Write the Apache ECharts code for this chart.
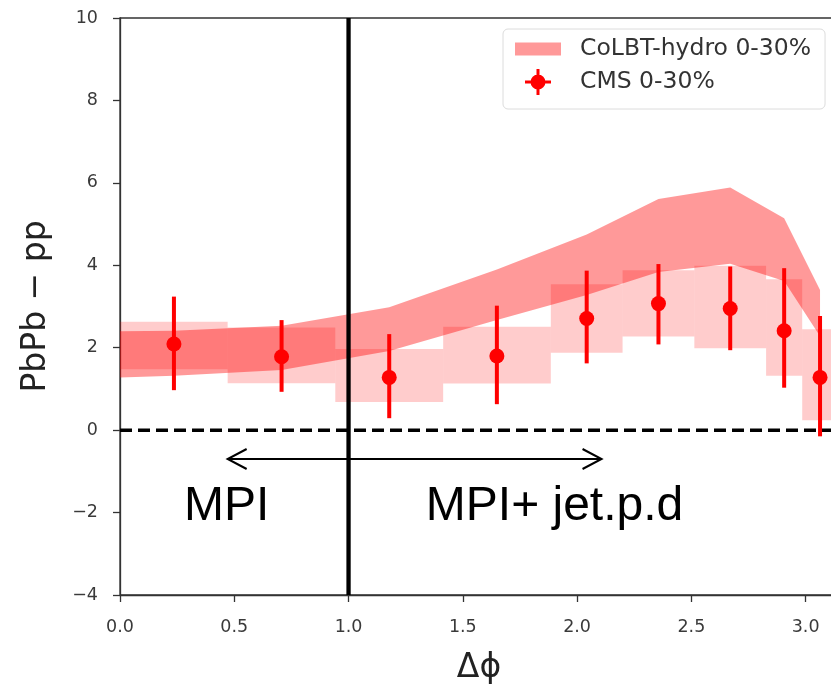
<!DOCTYPE html>
<html><head><meta charset="utf-8">
<script src="https://cdn.jsdelivr.net/npm/echarts@6/dist/echarts.min.js"></script>
<style>html,body{margin:0;padding:0;background:#fff}#chart{width:831px;height:685px}</style>
</head><body><div id="chart"></div>
<script>
// ---- data ----
const binEdges = [0, 0.471, 0.942, 1.414, 1.885, 2.199, 2.513, 2.827, 2.985, 3.1416];
const cmsX = [0.236, 0.707, 1.178, 1.649, 2.042, 2.356, 2.670, 2.906, 3.063];
const cmsY = [2.09, 1.78, 1.28, 1.80, 2.71, 3.07, 2.95, 2.41, 1.28];
const cmsStatLow = [0.97, 0.93, 0.29, 0.63, 1.62, 2.08, 1.94, 1.03, -0.15];
const cmsStatHigh = [3.24, 2.67, 2.33, 3.02, 3.87, 4.03, 3.97, 3.93, 2.77];
const cmsSysLow = [1.48, 1.14, 0.68, 1.13, 1.88, 2.27, 1.99, 1.32, 0.24];
const cmsSysHigh = [2.63, 2.49, 1.97, 2.51, 3.54, 3.88, 3.99, 3.66, 2.45];
const modelX = [0, 0.236, 0.707, 1.178, 1.649, 2.042, 2.356, 2.670, 2.906, 3.063];
const modelUpper = [2.40, 2.41, 2.53, 2.98, 3.90, 4.75, 5.61, 5.89, 5.14, 3.40];
const modelLower = [1.28, 1.32, 1.46, 1.92, 2.67, 3.28, 3.84, 4.04, 3.62, 2.28];
const xTicks = [0.0, 0.5, 1.0, 1.5, 2.0, 2.5, 3.0];
const yTicks = [-4, -2, 0, 2, 4, 6, 8, 10];
const dividerX = [1.0];
const zeroY = [0];
const arrowX = [0.471, 2.107];
const arrowY = [-0.70];
const annoText = ['MPI', 'MPI+ jet.p.d'];
const annoX = [0.280, 1.338];
const annoY = [-1.85, -1.85];
const seriesNames = ['CoLBT-hydro 0-30%', 'CMS 0-30%'];
const axisNames = ['\u0394\u03D5', 'PbPb \u2212 pp'];

// ---- chart ----
const chart = echarts.init(document.getElementById('chart'), null, {renderer: 'canvas'});
const tickFont = {fontFamily: 'DejaVu Sans', fontSize: 17.5, color: '#3a3a3a'};
const axisLineStyle = {color: '#333', width: 1.3};
const starIcon = 'path://M11.5,0 L14.5,0 L14.5,11.5 L26,11.5 L26,14.5 L14.5,14.5 L14.5,26 L11.5,26 L11.5,14.5 L0,14.5 L0,11.5 L11.5,11.5 Z M13,5.5 A7.5,7.5 0 1 1 13,20.5 A7.5,7.5 0 1 1 13,5.5 Z';

const option = {
  animation: false,
  backgroundColor: '#fff',
  grid: {left: 120, top: 18, right: -7, bottom: 90, show: true, borderColor: '#333', borderWidth: 1.3,
    containLabel: false, outerBoundsMode: 'none'},
  legend: {
    orient: 'vertical', left: 503, top: 29,
    padding: [8, 14, 14, 12], itemGap: 8, itemWidth: 46, itemHeight: 26,
    symbolKeepAspect: true, selectedMode: false,
    backgroundColor: 'rgba(255,255,255,0.8)', borderColor: '#dcdcdc', borderWidth: 1, borderRadius: 5,
    textStyle: {fontFamily: 'DejaVu Sans', fontSize: 23.5, color: '#333', padding: [0, 0, 0, 14]},
    data: [
      {name: seriesNames[0], icon: 'path://M0,0 L46,0 L46,13 L0,13 Z'},
      {name: seriesNames[1], icon: starIcon}
    ]
  },
  xAxis: {
    type: 'value', min: 0, max: Math.PI, interval: 0.5,
    name: axisNames[0], nameLocation: 'middle', nameGap: 57,
    nameTextStyle: {fontFamily: 'DejaVu Sans', fontSize: 33, color: '#222'},
    axisLine: {show: true, onZero: false, lineStyle: axisLineStyle},
    axisTick: {show: true, inside: false, length: 7, lineStyle: axisLineStyle},
    axisLabel: Object.assign({margin: 23, showMaxLabel: false,
      formatter: v => xTicks.indexOf(Math.round(v * 10) / 10) >= 0 ? v.toFixed(1) : ''}, tickFont),
    splitLine: {show: false}
  },
  yAxis: {
    type: 'value', min: -4, max: 10, interval: 2,
    name: axisNames[1], nameLocation: 'middle', nameGap: 67,
    nameTextStyle: {fontFamily: 'DejaVu Sans', fontSize: 33, color: '#222'},
    axisLine: {show: true, onZero: false, lineStyle: axisLineStyle},
    axisTick: {show: true, inside: false, length: 7, lineStyle: axisLineStyle},
    axisLabel: Object.assign({margin: 22,
      formatter: v => yTicks.indexOf(v) >= 0 ? (v < 0 ? '\u2212' + Math.abs(v) : String(v)) : ''}, tickFont),
    splitLine: {show: false}
  },
  series: [
    {
      type: 'custom', name: 'CMS sys', silent: true, z: 2,
      data: cmsSysLow.map((lo, i) => [binEdges[i], binEdges[i + 1], lo, cmsSysHigh[i]]),
      encode: {x: [0, 1], y: [2, 3]},
      renderItem: (p, api) => {
        const a = api.coord([api.value(0), api.value(3)]);
        const b = api.coord([api.value(1), api.value(2)]);
        return {type: 'rect', shape: {x: a[0], y: a[1], width: b[0] - a[0], height: b[1] - a[1]},
          style: {fill: 'rgba(255,0,0,0.2)'}};
      }
    },
    {
      type: 'custom', name: seriesNames[0], silent: true, z: 3,
      itemStyle: {color: 'rgba(255,0,0,0.4)'},
      data: modelX.map((x, i) => [x, modelLower[i], modelUpper[i]]),
      encode: {x: 0, y: [1, 2]},
      renderItem: (p, api) => {
        if (p.dataIndex !== 0) return null;
        const pts = [];
        for (let i = 0; i < modelX.length; i++) pts.push(api.coord([modelX[i], modelUpper[i]]));
        for (let i = modelX.length - 1; i >= 0; i--) pts.push(api.coord([modelX[i], modelLower[i]]));
        return {type: 'polygon', shape: {points: pts}, style: {fill: 'rgba(255,0,0,0.4)'}};
      }
    },
    {
      type: 'custom', name: 'refLines', silent: true, z: 4,
      data: [[dividerX[0], zeroY[0]]],
      encode: {x: 0, y: 1},
      renderItem: (p, api) => {
        const v0 = api.coord([dividerX[0], -4]);
        const v1 = api.coord([dividerX[0], 10]);
        const h0 = api.coord([0, zeroY[0]]);
        const h1 = api.coord([Math.PI, zeroY[0]]);
        return {type: 'group', children: [
          {type: 'line', shape: {x1: h0[0], y1: h0[1], x2: h1[0], y2: h1[1]},
            style: {stroke: '#000', lineWidth: 3.5, lineDash: [12, 6]}},
          {type: 'line', shape: {x1: v0[0], y1: v0[1], x2: v1[0], y2: v1[1]},
            style: {stroke: '#000', lineWidth: 4.3}}
        ]};
      }
    },
    {
      type: 'custom', name: seriesNames[1], silent: true, z: 5,
      itemStyle: {color: '#ff0000'},
      data: cmsX.map((x, i) => [x, cmsY[i], cmsStatLow[i], cmsStatHigh[i]]),
      encode: {x: 0, y: [1, 2, 3]},
      renderItem: (p, api) => {
        const c = api.coord([api.value(0), api.value(1)]);
        const lo = api.coord([api.value(0), api.value(2)]);
        const hi = api.coord([api.value(0), api.value(3)]);
        return {type: 'group', children: [
          {type: 'line', shape: {x1: lo[0], y1: lo[1], x2: hi[0], y2: hi[1]}, style: {stroke: '#ff0000', lineWidth: 4}},
          {type: 'circle', shape: {cx: c[0], cy: c[1], r: 7.5}, style: {fill: '#ff0000'}}
        ]};
      }
    },
    {
      type: 'custom', name: 'arrow', silent: true, z: 6,
      data: [[arrowX[0], arrowX[1], arrowY[0]]],
      encode: {x: [0, 1], y: 2},
      renderItem: (p, api) => {
        const a = api.coord([api.value(0), api.value(2)]);
        const b = api.coord([api.value(1), api.value(2)]);
        const hl = 19, hw = 10;
        const st = {stroke: '#000', lineWidth: 2, fill: null};
        return {type: 'group', children: [
          {type: 'line', shape: {x1: a[0], y1: a[1], x2: b[0], y2: b[1]}, style: st},
          {type: 'polyline', shape: {points: [[a[0] + hl, a[1] - hw], [a[0], a[1]], [a[0] + hl, a[1] + hw]]}, style: st},
          {type: 'polyline', shape: {points: [[b[0] - hl, b[1] - hw], [b[0], b[1]], [b[0] - hl, b[1] + hw]]}, style: st}
        ]};
      }
    },
    {
      type: 'custom', name: 'annotations', silent: true, z: 7,
      data: annoX.map((x, i) => [x, annoY[i]]),
      encode: {x: 0, y: 1},
      renderItem: (p, api) => {
        const c = api.coord([api.value(0), api.value(1)]);
        return {type: 'text', x: c[0], y: c[1],
          style: {text: annoText[p.dataIndex], fill: '#000', align: 'left', verticalAlign: 'middle',
            font: '48px "Liberation Sans", Arial, sans-serif'}};
      }
    }
  ]
};
chart.setOption(option);
</script>
</body></html>
